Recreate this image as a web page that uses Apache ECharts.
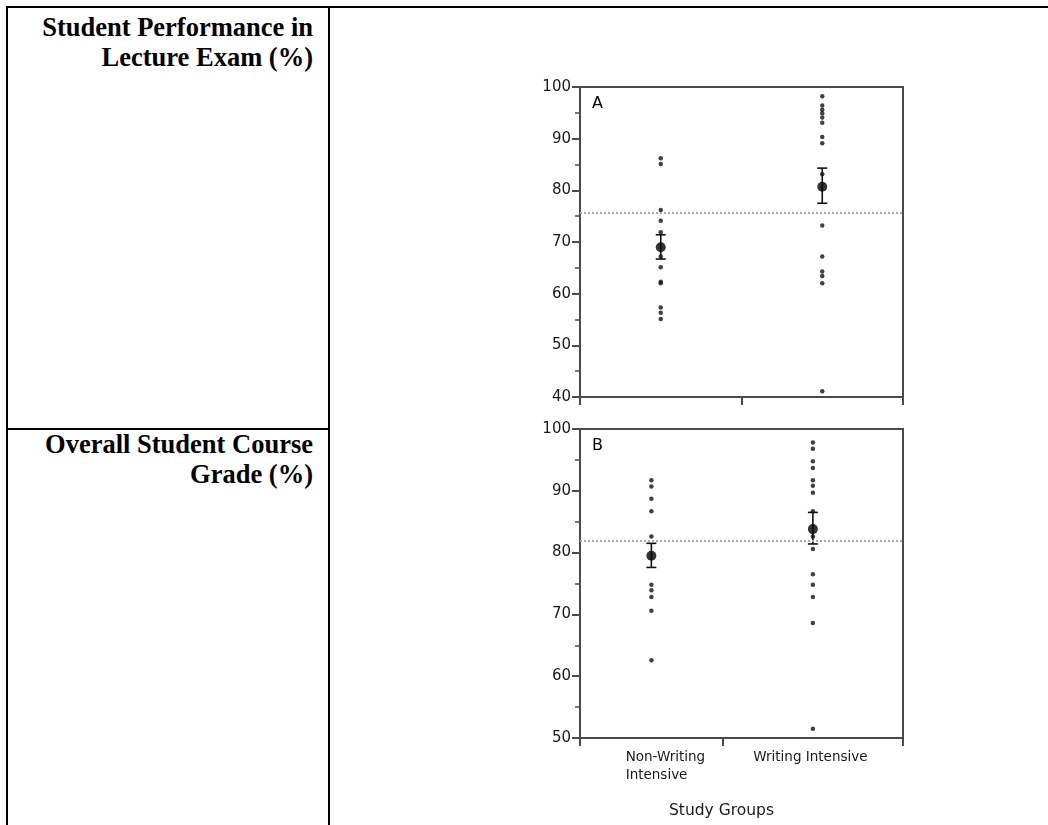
<!DOCTYPE html>
<html>
<head>
<meta charset="utf-8">
<title>Student Performance</title>
<script src="https://cdn.jsdelivr.net/npm/echarts@6/dist/echarts.min.js"></script>
<style>
  html, body { margin: 0; padding: 0; background: #fff; }
  body { width: 1048px; height: 825px; position: relative; overflow: hidden; }
  .rule { position: absolute; background: #000; }
  .rowhead {
    position: absolute; left: 10px; width: 303px;
    text-align: right; font-family: "Liberation Serif", "Times New Roman", serif;
    font-weight: bold; font-size: 26.5px; line-height: 30px; color: #000;
  }
  #chart { position: absolute; left: 0; top: 0; width: 1048px; height: 825px; }
</style>
</head>
<body>
<!-- table rules -->
<div class="rule" style="left:6px;top:6px;width:1042px;height:2px;"></div>
<div class="rule" style="left:6px;top:6px;width:2px;height:819px;"></div>
<div class="rule" style="left:328px;top:6px;width:2px;height:819px;"></div>
<div class="rule" style="left:6px;top:428px;width:324px;height:2px;"></div>
<!-- row headings -->
<div class="rowhead" style="top:12px;">Student Performance in<br>Lecture Exam (%)</div>
<div class="rowhead" style="top:429px;">Overall Student Course<br>Grade (%)</div>
<div id="chart"></div>
<script>
// Study groups on the x axis
const groups = ['Non-Writing\nIntensive', 'Writing Intensive'];
const panelLetters = ['A', 'B'];
const xAxisTitle = 'Study Groups';

// Lecture exam scores (%)
const examNonWriting = [86.2, 85.1, 76.2, 74.1, 71.9, 67.2, 65.1, 62.3, 62.0, 57.3, 56.3, 55.1];
const examWriting = [98.2, 96.4, 95.6, 94.9, 94.1, 93.1, 90.3, 89.1, 83.1, 73.2, 67.2, 64.3, 63.4, 62.0, 41.1];
const examMean = [69.0, 80.7];
const examLow = [66.7, 77.5];
const examHigh = [71.4, 84.3];
const examGrandMean = 75.6;

// Overall course grades (%)
const gradeNonWriting = [91.7, 90.7, 88.7, 86.7, 82.6, 74.8, 73.9, 72.8, 70.6, 62.6];
const gradeWriting = [97.8, 96.8, 94.8, 93.7, 91.7, 90.8, 89.7, 86.7, 82.6, 80.6, 76.5, 74.8, 72.8, 68.6, 51.5];
const gradeMean = [79.5, 83.8];
const gradeLow = [77.6, 81.4];
const gradeHigh = [81.5, 86.5];
const gradeGrandMean = 81.9;

// y-axis ranges
const examAxisMin = 40;
const gradeAxisMin = 50;
const axisMax = 100;
const axisStep = 10;

const AXIS_COLOR = '#4a4a4a';
const TEXT_COLOR = '#1a1a1a';
const SANS = '"DejaVu Sans", Verdana, sans-serif';

// Each group occupies a share of the x axis; split = boundary between the two groups
const panels = [
  { letter: panelLetters[0], groupsData: [examNonWriting, examWriting], mean: examMean, low: examLow, high: examHigh,
    grand: examGrandMean, min: examAxisMin, split: 0.5, top: 87, height: 310, showLabels: false },
  { letter: panelLetters[1], groupsData: [gradeNonWriting, gradeWriting], mean: gradeMean, low: gradeLow, high: gradeHigh,
    grand: gradeGrandMean, min: gradeAxisMin, split: 0.442, top: 429, height: 309, showLabels: true }
];

function groupCenter(p, k) {
  return k === 0 ? p.split / 2 : (1 + p.split) / 2;
}

const grid = [], xAxis = [], yAxis = [], series = [], title = [];

panels.forEach((p, i) => {
  grid.push({
    left: 580, width: 323, top: p.top, height: p.height,
    show: true, borderColor: AXIS_COLOR, borderWidth: 2, backgroundColor: 'transparent'
  });

  title.push({
    text: p.letter, left: 592, top: p.top + 9, padding: 0,
    textStyle: { fontFamily: SANS, fontSize: 16, fontWeight: 'normal', color: '#000' }
  });

  xAxis.push({
    type: 'value', gridIndex: i, min: 0, max: 1,
    splitLine: { show: false },
    axisLine: { show: true, lineStyle: { color: AXIS_COLOR, width: 2 } },
    axisTick: { show: true, customValues: [0, p.split, 1], length: 8, lineStyle: { color: AXIS_COLOR, width: 2 } },
    axisLabel: {
      show: p.showLabels,
      customValues: [groupCenter(p, 0), groupCenter(p, 1)],
      margin: 10,
      fontFamily: SANS, fontSize: 13.5, color: TEXT_COLOR, lineHeight: 18,
      formatter: (v) => {
        const k = v < p.split ? 0 : 1;
        const lines = groups[k].split('\n');
        const style = k === 0 ? 'n' : 'w';
        return lines.map(s => '{' + style + '|' + s + '}').join('\n');
      },
      rich: {
        n: { align: 'left', padding: [0, 0, 0, 28], fontFamily: SANS, fontSize: 13.5, color: TEXT_COLOR, lineHeight: 18 },
        w: { align: 'left', padding: [0, 5, 0, 0], fontFamily: SANS, fontSize: 13.5, color: TEXT_COLOR, lineHeight: 18 }
      }
    },
    name: p.showLabels ? xAxisTitle : '',
    nameLocation: 'middle', nameGap: 65,
    nameTextStyle: { fontFamily: SANS, fontSize: 15.5, color: TEXT_COLOR, padding: [0, 40, 0, 0] }
  });

  yAxis.push({
    type: 'value', gridIndex: i, min: p.min, max: axisMax, interval: axisStep,
    splitLine: { show: false },
    axisLine: { show: true, lineStyle: { color: AXIS_COLOR, width: 2 } },
    axisTick: { show: true, length: 8, lineStyle: { color: AXIS_COLOR, width: 2 } },
    minorTick: { show: true, splitNumber: 2, length: 5, lineStyle: { color: AXIS_COLOR, width: 1.5 } },
    minorSplitLine: { show: false },
    axisLabel: { margin: 9, fontFamily: SANS, fontSize: 15, color: TEXT_COLOR }
  });

  // individual scores
  p.groupsData.forEach((vals, k) => {
    series.push({
      type: 'scatter', xAxisIndex: i, yAxisIndex: i,
      symbol: 'circle', symbolSize: 4.5,
      itemStyle: { color: '#111' },
      silent: true,
      data: vals.map(v => [groupCenter(p, k), v]),
      markLine: k === 0 ? {
        silent: true, symbol: 'none', label: { show: false },
        lineStyle: { color: '#a8a8a8', type: 'dotted', width: 2 },
        data: [{ yAxis: p.grand }]
      } : undefined,
      z: 3
    });
  });

  // error bars around each group mean
  series.push({
    type: 'custom', xAxisIndex: i, yAxisIndex: i, silent: true,
    data: p.mean.map((m, k) => [groupCenter(p, k), p.low[k], p.high[k]]),
    renderItem: (params, api) => {
      const x = api.value(0);
      const lo = api.coord([x, api.value(1)]);
      const hi = api.coord([x, api.value(2)]);
      const cap = 5;
      const st = { stroke: '#111', lineWidth: 1.6 };
      return {
        type: 'group',
        children: [
          { type: 'line', shape: { x1: lo[0], y1: lo[1], x2: hi[0], y2: hi[1] }, style: st },
          { type: 'line', shape: { x1: lo[0] - cap, y1: lo[1], x2: lo[0] + cap, y2: lo[1] }, style: st },
          { type: 'line', shape: { x1: hi[0] - cap, y1: hi[1], x2: hi[0] + cap, y2: hi[1] }, style: st }
        ]
      };
    },
    z: 4
  });

  // group means
  series.push({
    type: 'scatter', xAxisIndex: i, yAxisIndex: i,
    symbol: 'circle', symbolSize: 10, silent: true,
    itemStyle: { color: '#000' },
    data: p.mean.map((m, k) => [groupCenter(p, k), m]),
    z: 5
  });
});

const chart = echarts.init(document.getElementById('chart'), null, { renderer: 'canvas' });
chart.setOption({
  animation: false,
  backgroundColor: 'transparent',
  title, grid, xAxis, yAxis, series
});
</script>
</body>
</html>
